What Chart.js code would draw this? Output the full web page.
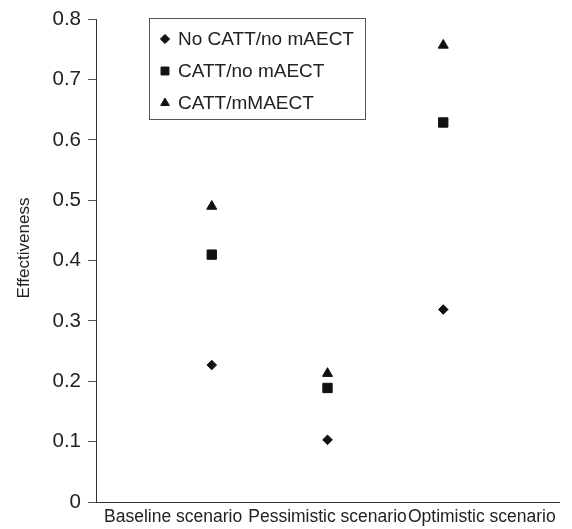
<!DOCTYPE html>
<html>
<head>
<meta charset="utf-8">
<script src="https://cdn.jsdelivr.net/npm/chart.js@4/dist/chart.umd.min.js"></script>
<style>
  html, body { margin: 0; padding: 0; background: #fff; }
  #wrap { width: 572px; height: 529px; }
</style>
</head>
<body>
<div id="wrap"><canvas id="myChart" width="572" height="529"></canvas></div>
<script>
// categories and values
const scenarios = ['Baseline scenario', 'Pessimistic scenario', 'Optimistic scenario'];
const scenarioX = [1, 2, 3];
const seriesNames = ['No CATT/no mAECT', 'CATT/no mAECT', 'CATT/mMAECT'];
const noCattNoMaect = [0.227, 0.103, 0.319];
const cattNoMaect = [0.41, 0.189, 0.629];
const cattMmaect = [0.49, 0.213, 0.757];
const yTicks = [0, 0.1, 0.2, 0.3, 0.4, 0.5, 0.6, 0.7, 0.8];
const yTitle = 'Effectiveness';

const FONT = "'Liberation Sans', Arial, sans-serif";
const TEXT = '#222';

function toPoints(values) {
    return values.map((v, i) => ({ x: scenarioX[i], y: v }));
}

// legend drawn as a framed box inside the plot, like the original,
// plus the y title which sits a little above the middle of the axis
const boxLegend = {
    id: 'boxLegend',
    afterDraw(chart) {
        const ctx = chart.ctx;
        const left = 149, top = 18, right = 365, bottom = 119;
        ctx.save();
        ctx.strokeStyle = '#555';
        ctx.lineWidth = 1;
        ctx.strokeRect(left + 0.5, top + 0.5, right - left, bottom - top);
        const rows = [39, 71, 103];
        const sizes = [4.6, 5.6, 5.0];
        chart.data.datasets.forEach((ds, i) => {
            ctx.fillStyle = '#111';
            ctx.strokeStyle = '#111';
            Chart.helpers.drawPoint(ctx, {
                pointStyle: ds.pointStyle, radius: sizes[i], borderWidth: 1, rotation: 0
            }, 165, rows[i]);
            ctx.fillStyle = TEXT;
            ctx.font = '19px ' + FONT;
            ctx.textBaseline = 'middle';
            ctx.textAlign = 'left';
            ctx.fillText(ds.label, 178, rows[i] + 1);
        });

        ctx.translate(24, 248);
        ctx.rotate(-Math.PI / 2);
        ctx.fillStyle = TEXT;
        ctx.font = '17px ' + FONT;
        ctx.textAlign = 'center';
        ctx.textBaseline = 'middle';
        ctx.fillText(yTitle, 0, 0);
        ctx.restore();
    }
};

const ctx = document.getElementById('myChart');
const myChart = new Chart(ctx, {
    type: 'scatter',
    data: {
        datasets: [{
            label: seriesNames[0],
            data: toPoints(noCattNoMaect),
            pointStyle: 'rectRot',
            pointRadius: 4.8,
            backgroundColor: '#111',
            borderColor: '#111',
            borderWidth: 1
        }, {
            label: seriesNames[1],
            data: toPoints(cattNoMaect),
            pointStyle: 'rect',
            pointRadius: 6.6,
            backgroundColor: '#111',
            borderColor: '#111',
            borderWidth: 1
        }, {
            label: seriesNames[2],
            data: toPoints(cattMmaect),
            pointStyle: 'triangle',
            pointRadius: 5.8,
            backgroundColor: '#111',
            borderColor: '#111',
            borderWidth: 1
        }]
    },
    options: {
        responsive: false,
        animation: false,
        events: [],
        layout: { padding: { left: 0, right: 13, top: 16, bottom: 0 } },
        plugins: {
            legend: { display: false },
            tooltip: { enabled: false }
        },
        scales: {
            x: {
                type: 'linear',
                min: 0,
                max: 4,
                display: false
            },
            cat: {
                type: 'category',
                labels: scenarios,
                position: 'bottom',
                offset: true,
                grid: { display: false, drawTicks: false },
                border: { display: true, color: '#333', width: 1 },
                ticks: {
                    color: TEXT,
                    padding: 5,
                    maxRotation: 0,
                    autoSkip: false,
                    font: { family: FONT, size: 17.5 }
                },
                afterFit(scale) { scale.height = 27; }
            },
            y: {
                min: 0,
                max: 0.8,
                afterBuildTicks(scale) {
                    scale.ticks = yTicks.map(v => ({ value: v }));
                },
                grid: {
                    drawOnChartArea: false,
                    drawTicks: true,
                    tickLength: 8,
                    color: '#555'
                },
                border: { display: true, color: '#333', width: 1 },
                ticks: {
                    color: TEXT,
                    padding: 7,
                    font: { family: FONT, size: 20.5 },
                    callback: v => String(Math.round(v * 10) / 10)
                },
                afterFit(scale) { scale.width = 96; }
            }
        }
    },
    plugins: [boxLegend]
});
</script>
</body>
</html>
